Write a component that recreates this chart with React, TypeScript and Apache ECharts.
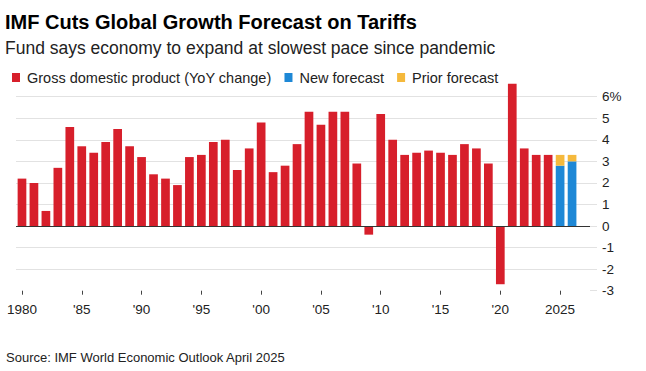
import React, { useEffect, useRef } from "react";
import * as echarts from "echarts";

const years: string[] = [];
for (let y = 1980; y <= 2027; y++) years.push(String(y));

const gdpGrowth = [
  2.2, 2.0, 0.7, 2.7, 4.6, 3.7, 3.4, 3.9, 4.5, 3.7,
  3.2, 2.4, 2.2, 1.9, 3.2, 3.3, 3.9, 4.0, 2.6, 3.6,
  4.8, 2.5, 2.8, 3.8, 5.3, 4.7, 5.3, 5.3, 2.9, -0.4,
  5.2, 4.0, 3.3, 3.4, 3.5, 3.4, 3.3, 3.8, 3.6, 2.9,
  -2.7, 6.6, 3.6, 3.3, 3.3,
];
const forecastYears = ["2025", "2026"];
const newForecast = [2.8, 3.0];
const priorForecast = [3.3, 3.3];

const TITLE = "IMF Cuts Global Growth Forecast on Tariffs";
const SUBTITLE = "Fund says economy to expand at slowest pace since pandemic";
const SOURCE = "Source: IMF World Economic Outlook April 2025";

const FONT = "'Liberation Sans', Arial, sans-serif";
const RED = "#d71f2b";
const BLUE = "#1e88d6";
const YELLOW = "#f5b93c";
const GRID = "#e2e2e2";

export default function App() {
  const ref = useRef<HTMLDivElement>(null);
  useEffect(() => {
    if (!ref.current) return;
    const chart = echarts.init(ref.current, undefined, { renderer: "svg" });

    const gdpData = years.map((y, i) => (i < gdpGrowth.length ? gdpGrowth[i] : "-"));
    const newData = years.map((y) => {
      const k = forecastYears.indexOf(y);
      return k >= 0 ? newForecast[k] : "-";
    });
    const priorData = years.map((y) => {
      const k = forecastYears.indexOf(y);
      return k >= 0 ? +(priorForecast[k] - newForecast[k]).toFixed(2) : "-";
    });

    const showYear = (_i: number, v: string) => +v % 5 === 0 && +v <= 2025;
    const fmtYear = (v: string) => {
      const n = +v;
      if (n === 1980 || n === 2025) return v;
      return "'" + v.slice(2);
    };

    chart.setOption({
      animation: false,
      textStyle: { fontFamily: FONT },
      grid: { left: 16, right: 56, top: 96.7, bottom: 80.3, containLabel: false },
      legend: {
        left: 7,
        top: 65,
        icon: "rect",
        itemWidth: 8,
        itemHeight: 9,
        itemGap: 13,
        selectedMode: false,
        textStyle: { fontSize: 14.5, color: "#222", fontFamily: FONT, padding: [0, 0, 0, 2] },
        data: ["Gross domestic product (YoY change)", "New forecast", "Prior forecast"],
      },
      xAxis: {
        type: "category",
        data: years,
        position: "bottom",
        boundaryGap: true,
        axisLine: { show: false, onZero: false },
        axisTick: {
          show: true,
          alignWithLabel: true,
          interval: showYear,
          length: 4,
          lineStyle: { color: "#444" },
        },
        axisLabel: {
          interval: showYear,
          formatter: fmtYear,
          margin: 12,
          fontSize: 13.5,
          color: "#222",
          fontFamily: FONT,
        },
        splitLine: { show: false },
      },
      yAxis: {
        type: "value",
        position: "right",
        min: -3,
        max: 6,
        interval: 1,
        axisLine: { show: false },
        axisTick: { show: true, length: 7, lineStyle: { color: GRID } },
        axisLabel: {
          margin: 12,
          fontSize: 13.5,
          color: "#222",
          fontFamily: FONT,
          formatter: (v: number) => (v === 6 ? "6%" : String(v)),
        },
        splitLine: { show: true, showMinLine: false, lineStyle: { color: GRID, width: 1 } },
      },
      series: [
        {
          name: "Gross domestic product (YoY change)",
          type: "bar",
          stack: "g",
          barWidth: 8.7,
          clip: false,
          itemStyle: { color: RED },
          data: gdpData,
          markLine: {
            silent: true,
            symbol: ["none", "none"],
            label: { show: false },
            lineStyle: { color: "#333", width: 1, type: "solid" },
            data: [{ yAxis: 0 }],
          },
        },
        {
          name: "New forecast",
          type: "bar",
          stack: "g",
          barWidth: 8.7,
          clip: false,
          itemStyle: { color: BLUE },
          data: newData,
        },
        {
          name: "Prior forecast",
          type: "bar",
          stack: "g",
          barWidth: 8.7,
          clip: false,
          itemStyle: { color: YELLOW },
          data: priorData,
        },
      ],
      graphic: [
        {
          type: "text",
          x: 5,
          y: 22.2,
          style: { text: TITLE, font: `bold 20px ${FONT}`, fill: "#000", verticalAlign: "middle" },
        },
        {
          type: "text",
          x: 5,
          y: 47.5,
          style: { text: SUBTITLE, font: `17.5px ${FONT}`, fill: "#222", verticalAlign: "middle" },
        },
        {
          type: "text",
          x: 6,
          y: 357.5,
          style: { text: SOURCE, font: `13px ${FONT}`, fill: "#222", verticalAlign: "middle" },
        },
      ],
    });
    return () => chart.dispose();
  }, []);
  return (
    <div
      ref={ref}
      style={{ position: "fixed", left: 0, top: 0, width: 646, height: 371, background: "#fff" }}
    />
  );
}
